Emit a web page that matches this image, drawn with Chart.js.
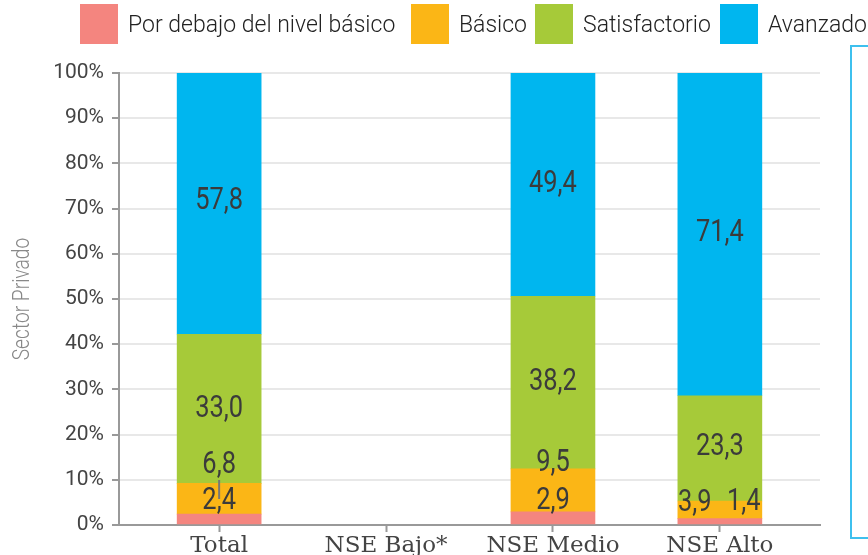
<!DOCTYPE html>
<html>
<head>
<meta charset="utf-8">
<script src="https://cdn.jsdelivr.net/npm/chart.js@4/dist/chart.umd.min.js"></script>
<style>
  html, body { margin: 0; padding: 0; background: #fff; }
  #wrap { position: relative; width: 868px; height: 555px; overflow: hidden; }
  #box { position: absolute; width: 868px; height: 585px; left: 0; top: 0; }
  #legend { position: absolute; left: 0; top: 4px; width: 900px; height: 44px;
            font: 300 23px Roboto, sans-serif; color: #222; white-space: nowrap; }
  #legend .it { position: absolute; top: 0; display: flex; align-items: center; }
  #legend .sw { width: 38px; height: 40px; margin-right: 10px; }
  #side { position: absolute; left: 850px; top: 45px; width: 40px; height: 494px;
          border: 2px solid #3ec0ee; box-sizing: border-box; }
</style>
</head>
<body>
<div id="wrap">
  <div id="box"><canvas id="chart"></canvas></div>
  <div id="legend"></div>
  <div id="side"></div>
</div>
<script>
// categories and series (percent)
const categories = ["Total", "NSE Bajo*", "NSE Medio", "NSE Alto"];
const seriesNames = ["Por debajo del nivel básico", "Básico", "Satisfactorio", "Avanzado"];
const belowBasic   = [2.4, null, 2.9, 1.4];
const basic        = [6.8, null, 9.5, 3.9];
const satisfactory = [33.0, null, 38.2, 23.3];
const advanced     = [57.8, null, 49.4, 71.4];
const yTicks = [0, 10, 20, 30, 40, 50, 60, 70, 80, 90, 100];
const yTitle = "Sector Privado";

const colors = ["#f4857f", "#fbb616", "#a6ca39", "#00b6ef"];
const legendLeft = [80, 411, 535, 720];

// label nudges (px) for the small segments, [dataset][category]
const labelShift = [
  [[0, -20], null, [0, -19], [24, -21]],
  [[0, -36], null, [0, -29], [-25, -9]],
  [[0, -2], null, [0, -2], [0, -3]],
  [[0, -4], null, [0, -2], [0, -3]],
];

const allSeries = [belowBasic, basic, satisfactory, advanced];

// html legend
const legendEl = document.getElementById("legend");
seriesNames.forEach((name, i) => {
  const it = document.createElement("div");
  it.className = "it";
  it.style.left = legendLeft[i] + "px";
  it.innerHTML = `<span class="sw" style="background:${colors[i]}"></span><span>${name}</span>`;
  legendEl.appendChild(it);
});

const fmt = (v) => v.toFixed(1).replace(".", ",");

const valueLabels = {
  id: "valueLabels",
  afterDatasetsDraw(chart) {
    const ctx = chart.ctx;
    ctx.save();
    // small leader line on Total
    const m0 = chart.getDatasetMeta(0).data[0];
    ctx.strokeStyle = "#777";
    ctx.lineWidth = 2;
    ctx.beginPath();
    ctx.moveTo(m0.x, 480);
    ctx.lineTo(m0.x, 499);
    ctx.stroke();

    ctx.font = "400 31px Roboto, sans-serif";
    ctx.fillStyle = "#3b3b3b";
    ctx.textAlign = "center";
    ctx.textBaseline = "middle";
    chart.data.datasets.forEach((ds, di) => {
      const meta = chart.getDatasetMeta(di);
      meta.data.forEach((bar, i) => {
        const v = allSeries[di][i];
        if (v == null) return;
        const sh = labelShift[di][i] || [0, 0];
        const cy = (bar.y + bar.base) / 2;
        ctx.save();
        ctx.translate(bar.x + sh[0], cy + sh[1] + 2);
        ctx.scale(0.82, 1);
        ctx.fillText(fmt(v), 0, 0);
        ctx.restore();
      });
    });

    // condensed y axis title
    const ca = chart.chartArea;
    ctx.save();
    ctx.translate(23, (ca.top + ca.bottom) / 2);
    ctx.rotate(-Math.PI / 2);
    ctx.scale(0.8, 1);
    ctx.font = "300 24px Roboto, sans-serif";
    ctx.fillStyle = "#888";
    ctx.fillText(yTitle, 0, 0);
    ctx.restore();
    ctx.restore();
  }
};

new Chart(document.getElementById("chart"), {
  type: "bar",
  data: {
    datasets: allSeries.map((arr, di) => ({
      label: seriesNames[di],
      data: arr.map((v, i) => ({ x: i, y: v })),
      backgroundColor: colors[di],
      barThickness: 84,
      borderWidth: 0,
    })),
  },
  options: {
    responsive: true,
    maintainAspectRatio: false,
    animation: false,
    layout: { padding: { top: 73, right: 48, left: 0, bottom: 0 } },
    plugins: { legend: { display: false }, tooltip: { enabled: false } },
    scales: {
      x: {
        type: "linear",
        stacked: true,
        offset: false,
        min: -0.6,
        max: 3.6,
        afterBuildTicks: (s) => { s.ticks = categories.map((c, i) => ({ value: i })); },
        afterFit: (s) => { s.height = 585 - 525; },
        ticks: {
          autoSkip: false,
          maxRotation: 0,
          padding: 0,
          color: "#444",
          font: { family: "'DejaVu Serif', serif", size: 23 },
          callback: (v) => categories[v],
        },
        grid: { offset: false, drawOnChartArea: false, tickLength: 7, tickColor: "#999", tickWidth: 2 },
        border: { color: "#999", width: 2 },
      },
      y: {
        stacked: true,
        min: 0,
        max: 100,
        afterBuildTicks: (s) => { s.ticks = yTicks.map((v) => ({ value: v })); },
        afterFit: (s) => { s.width = 119; },
        ticks: {
          padding: 8,
          color: "#444",
          font: { family: "Roboto", size: 21 },
          callback: (v) => v + "%",
        },
        grid: { color: "#e8e8e8", lineWidth: 2, tickLength: 7, tickColor: "#999", tickWidth: 2 },
        border: { color: "#999", width: 2 },
      },
    },
  },
  plugins: [valueLabels],
});
</script>
</body>
</html>
